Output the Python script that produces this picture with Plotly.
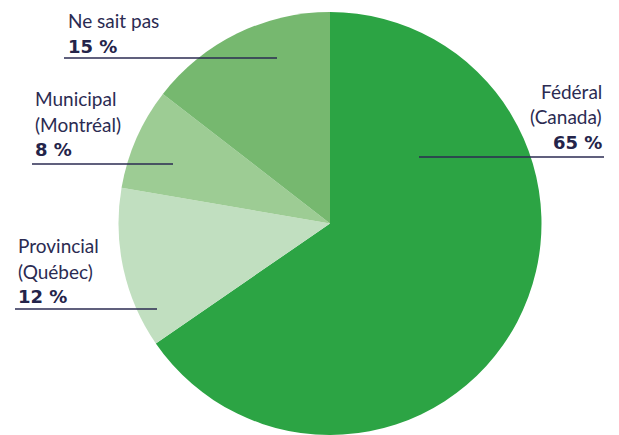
import plotly.graph_objects as go

W, H = 619, 435

categories = ["Fédéral (Canada)", "Provincial (Québec)", "Municipal (Montréal)", "Ne sait pas"]
values = [65.4, 12.3, 7.8, 14.5]
colors = ["#2ca444", "#c1dfc0", "#9dcc94", "#76b86f"]

label_lines = [["Fédéral", "(Canada)"], ["Provincial", "(Québec)"], ["Municipal", "(Montréal)"], ["Ne sait pas"]]
value_labels = ["65 %", "12 %", "8 %", "15 %"]

TEXT = "#2b2b52"
BOLD = "#24244a"
FONT = "Lato"
BFONT = "DejaVu Sans"
FS = 19

fig = go.Figure(go.Pie(
    labels=categories, values=values, sort=False, direction="clockwise", rotation=0,
    marker=dict(colors=colors, line=dict(width=0)),
    textinfo="none", hoverinfo="label", showlegend=False,
    domain=dict(x=[(330 - 212) / W, (330 + 212) / W], y=[0, 0.9724]),
))

def px(x):
    return x / W

def py(y):
    return 1 - y / H

# label layout: (x anchor px, anchor side, first baseline px, line y px, line x0, line x1)
layout_spec = [
    (604, "right", 98, 157, 419, 604),
    (16, "left", 252, 309, 15, 157),
    (33, "left", 105, 164, 32, 173),
    (66, "left", 27, 58, 64, 277),
]

annotations = []
shapes = []
step = 25.5
for i, (xa, side, b0, ly, lx0, lx1) in enumerate(layout_spec):
    lines = label_lines[i] + [value_labels[i]]
    for j, t in enumerate(lines):
        bl = b0 + j * step
        is_val = j == len(lines) - 1
        annotations.append(dict(
            x=px(xa), y=py(bl - 6.5), xref="paper", yref="paper",
            text=f"<b>{t}</b>" if is_val else t,
            showarrow=False, xanchor=side, yanchor="middle",
            font=dict(family=BFONT if is_val else FONT, size=FS - (1 if is_val else 0),
                      color=BOLD if is_val else TEXT),
        ))
    shapes.append(dict(type="line", xref="paper", yref="paper",
                       x0=px(lx0), x1=px(lx1), y0=py(ly), y1=py(ly),
                       line=dict(color=TEXT, width=1.5)))

fig.update_layout(
    width=W, height=H, margin=dict(l=0, r=0, t=0, b=0),
    paper_bgcolor="white", plot_bgcolor="white",
    annotations=annotations, shapes=shapes,
)

fig.write_html("out.html")
